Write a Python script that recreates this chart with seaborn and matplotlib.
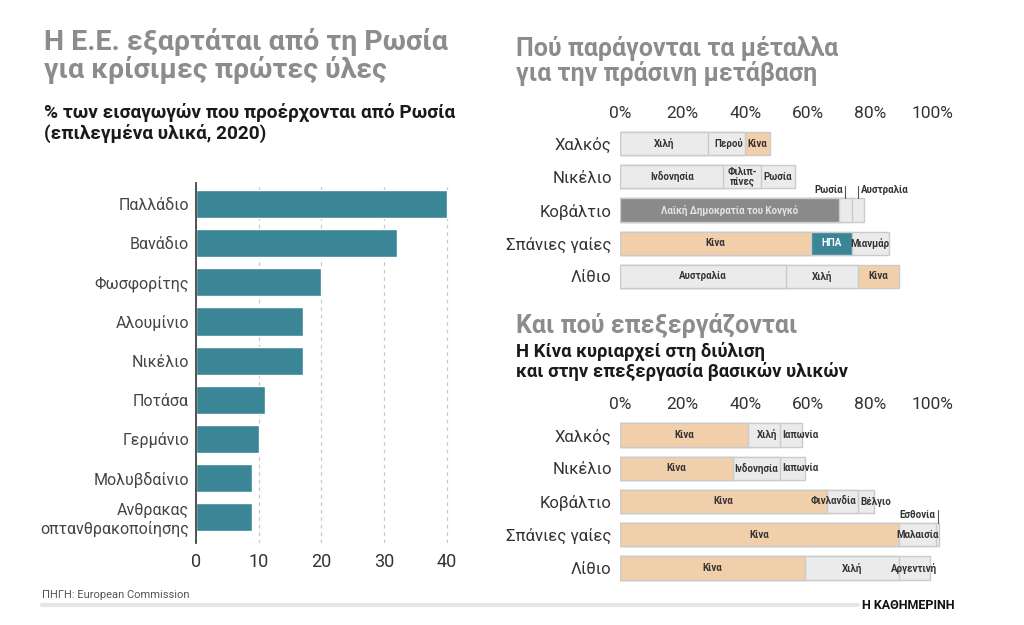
import numpy as np
import seaborn as sns
import matplotlib.pyplot as plt

sns.set_theme(style="white")
plt.rcParams["font.family"] = ["Roboto", "DejaVu Sans"]

# left chart: % of EU imports coming from Russia (2020)
materials = ["Παλλάδιο", "Βανάδιο", "Φωσφορίτης", "Αλουμίνιο", "Νικέλιο",
             "Ποτάσα", "Γερμάνιο", "Μολυβδαίνιο", "Ανθρακας\nοπτανθρακοποίησης"]
russia_share = [40, 32, 20, 17, 17, 11, 10, 9, 9]
left_ticks = [0, 10, 20, 30, 40]

# right charts: top-3 countries per metal
metals = ["Χαλκός", "Νικέλιο", "Κοβάλτιο", "Σπάνιες γαίες", "Λίθιο"]
mining_countries = [["Χιλή", "Περού", "Κίνα"],
                    ["Ινδονησία", "Φιλιπ-\nπίνες", "Ρωσία"],
                    ["Λαϊκή Δημοκρατία του Κονγκό", "Ρωσία", "Αυστραλία"],
                    ["Κίνα", "ΗΠΑ", "Μιανμάρ"],
                    ["Αυστραλία", "Χιλή", "Κίνα"]]
mining_share = [[28, 12, 8], [33, 12, 11], [70, 4, 4], [61, 13, 12], [53, 23, 13]]
processing_countries = [["Κίνα", "Χιλή", "Ιαπωνία"],
                        ["Κίνα", "Ινδονησία", "Ιαπωνία"],
                        ["Κίνα", "Φινλανδία", "Βέλγιο"],
                        ["Κίνα", "Μαλαισία", "Εσθονία"],
                        ["Κίνα", "Χιλή", "Αργεντινή"]]
processing_share = [[41, 10, 7], [36, 15, 8], [66, 10, 5], [89, 12, 1], [59, 30, 10]]
pct_ticks = [0, 20, 40, 60, 80, 100]
pct_labels = [f"{t}%" for t in pct_ticks]

TEAL = "#3a8596"
PEACH = "#f2cfab"
LIGHT = "#ebebeb"
DARK = "#8a8a8a"
EDGE = "#cbcbcb"
DRC = "Λαϊκή Δημοκρατία του Κονγκό"
country_colors = {"Κίνα": PEACH, "ΗΠΑ": TEAL, DRC: DARK}
text_colors = {"ΗΠΑ": "white", DRC: "#e4e4e4"}


def fx(x):
    return x / 1024


def fy(y):
    return 1 - y / 625


fig = plt.figure(figsize=(10.24, 6.25), dpi=100)

# ---- left chart
ax = fig.add_axes([fx(196), fy(543), 257 / 1024, 360 / 625])
sns.barplot(x=russia_share, y=materials, orient="h", color=TEAL, saturation=1,
            width=0.72, ax=ax)
ax.set_xlim(0, 41)
ax.set_ylim(8.66, -0.54)
ax.set_xticks(left_ticks)
ax.set_xlabel("")
ax.set_ylabel("")
ax.xaxis.grid(True, color="#c8c8c8", lw=0.9, ls=(0, (3, 3)))
ax.set_axisbelow(True)
for s in ["top", "right", "bottom"]:
    ax.spines[s].set_visible(False)
ax.spines["left"].set_color("#444444")
ax.spines["left"].set_linewidth(1.3)
ax.tick_params(axis="y", length=0, pad=5, labelsize=11.5, labelcolor="#444444")
ax.tick_params(axis="x", length=0, pad=7, labelsize=13, labelcolor="#333333")


def stacked(ax, countries, shares):
    cum = np.cumsum(shares, axis=1)
    n = cum.shape[1]
    for k in range(n - 1, -1, -1):
        pal = {m: country_colors.get(c[k], LIGHT) for m, c in zip(metals, countries)}
        sns.barplot(x=cum[:, k], y=metals, hue=metals, palette=pal, orient="h",
                    width=0.7, saturation=1, dodge=False, legend=False,
                    edgecolor=EDGE, linewidth=1, ax=ax)
    for i, (cs, vals) in enumerate(zip(countries, shares)):
        start = 0
        small = [j for j, v in enumerate(vals) if v < 5]
        last = len(vals) - 1
        for j, (c, v) in enumerate(zip(cs, vals)):
            mid = start + v / 2
            kw = dict(fontsize=7, weight="bold", color=text_colors.get(c, "#333333"),
                      va="center", linespacing=0.95)
            if v < 5:
                # tiny slice: label above the bar with a leader tick
                side = "left" if (len(small) == 2 and j == small[1]) else "right"
                off = 0.9 if side == "left" else -0.9
                ax.plot([mid, mid], [i - 0.36, i - 0.74], color="#555555", lw=0.8)
                ax.text(mid + off, i - 0.6, c, ha=side, **kw)
            elif j == last and v < 10:
                ax.text(start + 0.8, i, c, ha="left", **kw)
            elif j == last - 1 and 5 <= vals[last] < 10:
                # next label is pushed right, so keep this one against its end
                ax.text(start + v - 0.6, i, c, ha="right", **kw)
            else:
                ax.text(mid, i, c, ha="center", **kw)
            start += v
    ax.set_xlim(0, 104)
    ax.set_ylim(4.6, -0.6)
    ax.xaxis.tick_top()
    ax.set_xticks(pct_ticks)
    ax.set_xticklabels(pct_labels)
    ax.set_xlabel("")
    ax.set_ylabel("")
    for s in ax.spines.values():
        s.set_visible(False)
    ax.tick_params(axis="x", length=0, pad=2, labelsize=12.5, labelcolor="#333333")
    ax.tick_params(axis="y", length=0, pad=6, labelsize=12, labelcolor="#333333")


ax2 = fig.add_axes([fx(620), fy(296), 325.5 / 1024, 172 / 625])
stacked(ax2, mining_countries, mining_share)

ax3 = fig.add_axes([fx(620), fy(588), 325.5 / 1024, 173 / 625])
stacked(ax3, processing_countries, processing_share)

# ---- titles (y = baseline of the last line)
grey = "#8c8c8c"
ink = "#1a1a1a"
fig.text(fx(44), fy(78), "Η Ε.Ε. εξαρτάται από τη Ρωσία\nγια κρίσιμες πρώτες ύλες",
         fontsize=20.5, weight="bold", color=grey, va="baseline", linespacing=0.98)
fig.text(fx(44), fy(139), "% των εισαγωγών που προέρχονται από Ρωσία\n(επιλεγμένα υλικά, 2020)",
         fontsize=13.7, weight="bold", color=ink, va="baseline", linespacing=1.13)

fig.text(fx(516), fy(81), "Πού παράγονται τα μέταλλα\nγια την πράσινη μετάβαση",
         fontsize=18, weight="bold", color=grey, va="baseline", linespacing=1.0)
fig.text(fx(516), fy(333), "Και πού επεξεργάζονται",
         fontsize=18, weight="bold", color=grey, va="baseline")
fig.text(fx(516), fy(377), "Η Κίνα κυριαρχεί στη διύλιση\nκαι στην επεξεργασία βασικών υλικών",
         fontsize=13.3, weight="bold", color=ink, va="baseline", linespacing=1.08)

# ---- footer
fig.text(fx(42), fy(598), "ΠΗΓΗ: European Commission", fontsize=8, color="#555555",
         va="baseline")
fig.add_artist(plt.Line2D([fx(42), fx(858)], [fy(605), fy(605)], color="#e6e6e6", lw=3))
fig.text(fx(862), fy(609), "Η ΚΑΘΗΜΕΡΙΝΗ", fontsize=9, weight="bold", color="#111111",
         va="baseline")

fig.savefig("out.png", dpi=100, facecolor="white")
